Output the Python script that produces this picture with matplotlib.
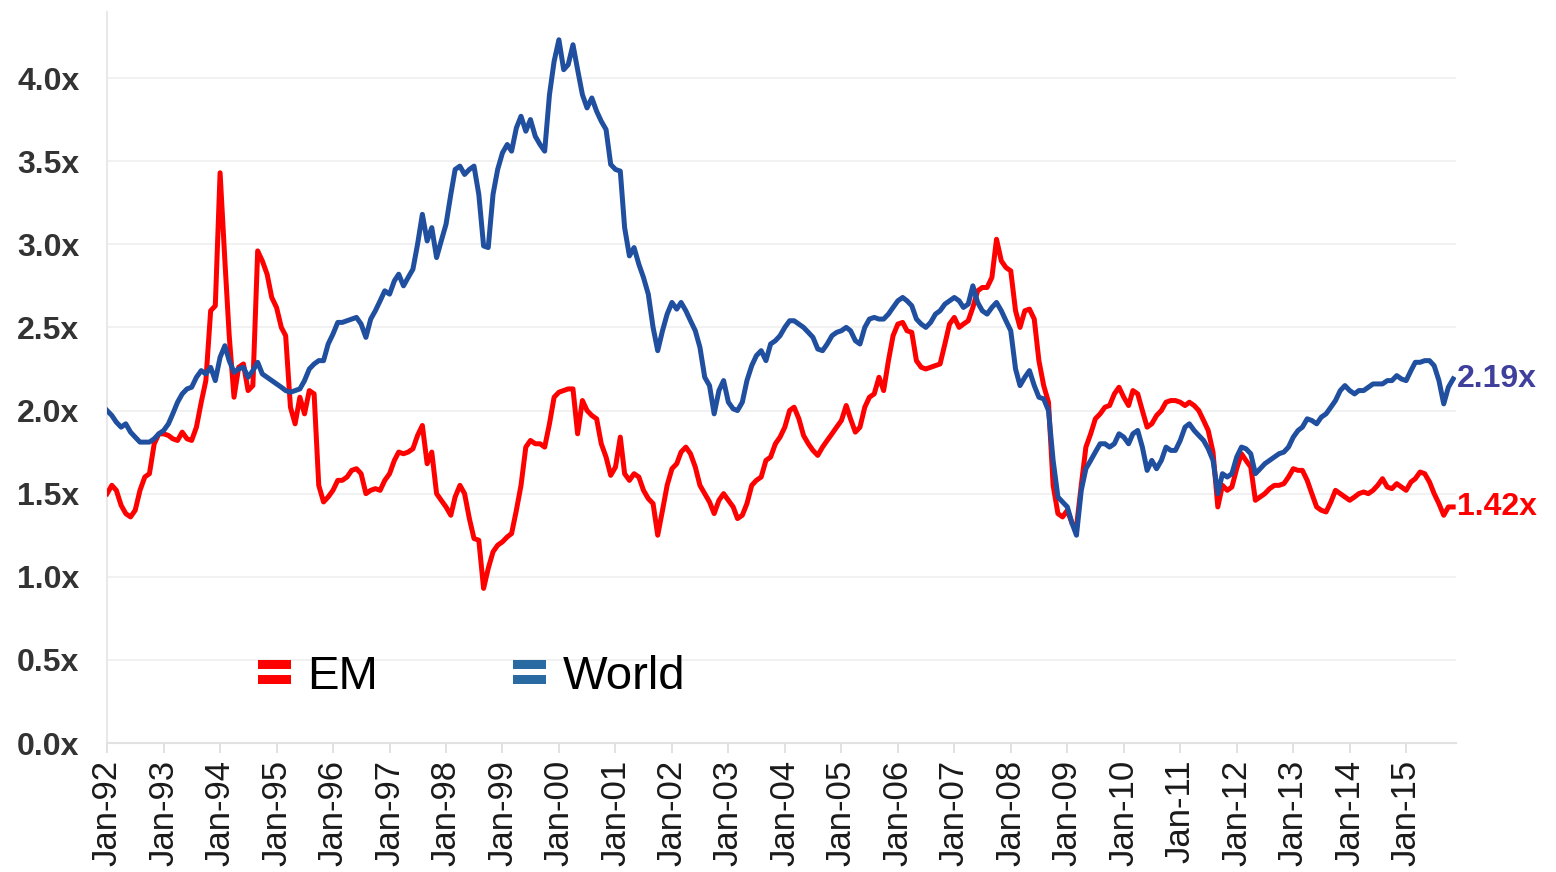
import matplotlib
matplotlib.use('Agg')
import matplotlib.pyplot as plt
import matplotlib.dates as mdates
import numpy as np
import pandas as pd
from matplotlib.legend_handler import HandlerBase
from matplotlib.patches import Rectangle, Patch

plt.rcParams['font.family'] = ['Liberation Sans', 'DejaVu Sans']

start_month = '1992-01-01'

world = [
    2.00, 1.97, 1.93, 1.90, 1.92, 1.87, 1.84, 1.81, 1.81, 1.81, 1.83, 1.86,  # 1992
    1.88, 1.92, 1.98, 2.05, 2.10, 2.13, 2.14, 2.20, 2.24, 2.22, 2.26, 2.18,  # 1993
    2.32, 2.39, 2.30, 2.23, 2.25, 2.26, 2.20, 2.24, 2.29, 2.22, 2.20, 2.18,  # 1994
    2.16, 2.14, 2.12, 2.11, 2.12, 2.13, 2.18, 2.25, 2.28, 2.30, 2.30, 2.40,  # 1995
    2.46, 2.53, 2.53, 2.54, 2.55, 2.56, 2.52, 2.44, 2.55, 2.60, 2.66, 2.72,  # 1996
    2.70, 2.78, 2.82, 2.75, 2.80, 2.85, 3.00, 3.18, 3.02, 3.10, 2.92, 3.02,  # 1997
    3.12, 3.30, 3.45, 3.47, 3.42, 3.45, 3.47, 3.30, 2.99, 2.98, 3.30, 3.45,  # 1998
    3.55, 3.60, 3.56, 3.70, 3.77, 3.68, 3.75, 3.65, 3.60, 3.56, 3.90, 4.10,  # 1999
    4.23, 4.05, 4.08, 4.20, 4.05, 3.90, 3.82, 3.88, 3.80, 3.74, 3.69, 3.48,  # 2000
    3.45, 3.44, 3.10, 2.93, 2.98, 2.88, 2.80, 2.70, 2.50, 2.36, 2.48, 2.58,  # 2001
    2.65, 2.61, 2.65, 2.60, 2.54, 2.48, 2.38, 2.20, 2.15, 1.98, 2.12, 2.18,  # 2002
    2.05, 2.01, 2.00, 2.05, 2.18, 2.27, 2.33, 2.36, 2.30, 2.40, 2.42, 2.45,  # 2003
    2.50, 2.54, 2.54, 2.52, 2.50, 2.47, 2.44, 2.37, 2.36, 2.40, 2.45, 2.47,  # 2004
    2.48, 2.50, 2.48, 2.42, 2.40, 2.50, 2.55, 2.56, 2.55, 2.55, 2.58, 2.62,  # 2005
    2.66, 2.68, 2.66, 2.63, 2.55, 2.52, 2.50, 2.53, 2.58, 2.60, 2.64, 2.66,  # 2006
    2.68, 2.66, 2.62, 2.64, 2.75, 2.65, 2.60, 2.58, 2.62, 2.65, 2.60, 2.54,  # 2007
    2.48, 2.25, 2.15, 2.20, 2.24, 2.15, 2.08, 2.07, 2.00, 1.70, 1.48, 1.45,  # 2008
    1.42, 1.32, 1.25, 1.52, 1.65, 1.70, 1.75, 1.80, 1.80, 1.78, 1.80, 1.86,  # 2009
    1.84, 1.80, 1.86, 1.88, 1.78, 1.64, 1.70, 1.65, 1.70, 1.78, 1.76, 1.76,  # 2010
    1.82, 1.90, 1.92, 1.88, 1.85, 1.82, 1.77, 1.70, 1.50, 1.62, 1.60, 1.62,  # 2011
    1.72, 1.78, 1.77, 1.74, 1.62, 1.65, 1.68, 1.70, 1.72, 1.74, 1.75, 1.78,  # 2012
    1.84, 1.88, 1.90, 1.95, 1.94, 1.92, 1.96, 1.98, 2.02, 2.06, 2.12, 2.15,  # 2013
    2.12, 2.10, 2.12, 2.12, 2.14, 2.16, 2.16, 2.16, 2.18, 2.18, 2.21, 2.19,  # 2014
    2.18, 2.24, 2.29, 2.29, 2.30, 2.30, 2.27, 2.18, 2.04, 2.14, 2.19,        # 2015
]

em = [
    1.50, 1.55, 1.52, 1.43, 1.38, 1.36, 1.40, 1.52, 1.60, 1.62, 1.80, 1.86,  # 1992
    1.86, 1.85, 1.83, 1.82, 1.87, 1.83, 1.82, 1.90, 2.05, 2.18, 2.60, 2.63,  # 1993
    3.43, 2.90, 2.45, 2.08, 2.26, 2.28, 2.12, 2.15, 2.96, 2.90, 2.82, 2.68,  # 1994
    2.62, 2.50, 2.45, 2.02, 1.92, 2.08, 1.98, 2.12, 2.10, 1.55, 1.45, 1.48,  # 1995
    1.52, 1.58, 1.58, 1.60, 1.64, 1.65, 1.62, 1.50, 1.52, 1.53, 1.52, 1.58,  # 1996
    1.62, 1.70, 1.75, 1.74, 1.75, 1.77, 1.85, 1.91, 1.68, 1.75, 1.50, 1.46,  # 1997
    1.42, 1.37, 1.48, 1.55, 1.50, 1.35, 1.23, 1.22, 0.93, 1.05, 1.15, 1.19,  # 1998
    1.21, 1.24, 1.26, 1.40, 1.55, 1.78, 1.82, 1.80, 1.80, 1.78, 1.92, 2.08,  # 1999
    2.11, 2.12, 2.13, 2.13, 1.86, 2.06, 2.00, 1.97, 1.95, 1.80, 1.72, 1.61,  # 2000
    1.66, 1.84, 1.62, 1.58, 1.62, 1.60, 1.52, 1.47, 1.44, 1.25, 1.40, 1.55,  # 2001
    1.65, 1.68, 1.75, 1.78, 1.74, 1.66, 1.55, 1.50, 1.45, 1.38, 1.46, 1.50,  # 2002
    1.46, 1.42, 1.35, 1.37, 1.44, 1.55, 1.58, 1.60, 1.70, 1.72, 1.80, 1.84,  # 2003
    1.90, 2.00, 2.02, 1.95, 1.85, 1.80, 1.76, 1.73, 1.78, 1.82, 1.86, 1.90,  # 2004
    1.94, 2.03, 1.95, 1.87, 1.90, 2.02, 2.08, 2.10, 2.20, 2.12, 2.30, 2.45,  # 2005
    2.52, 2.53, 2.48, 2.47, 2.30, 2.26, 2.25, 2.26, 2.27, 2.28, 2.40, 2.52,  # 2006
    2.56, 2.50, 2.52, 2.54, 2.62, 2.72, 2.74, 2.74, 2.80, 3.03, 2.90, 2.86,  # 2007
    2.84, 2.60, 2.50, 2.60, 2.61, 2.55, 2.30, 2.15, 2.05, 1.55, 1.38, 1.36,  # 2008
    1.40, 1.32, 1.30, 1.55, 1.78, 1.86, 1.95, 1.98, 2.02, 2.03, 2.10, 2.14,  # 2009
    2.08, 2.03, 2.12, 2.10, 2.00, 1.90, 1.92, 1.97, 2.00, 2.05, 2.06, 2.06,  # 2010
    2.05, 2.03, 2.05, 2.03, 2.00, 1.94, 1.88, 1.75, 1.42, 1.55, 1.52, 1.54,  # 2011
    1.65, 1.74, 1.70, 1.66, 1.46, 1.48, 1.50, 1.53, 1.55, 1.55, 1.56, 1.60,  # 2012
    1.65, 1.64, 1.64, 1.58, 1.50, 1.42, 1.40, 1.39, 1.45, 1.52, 1.50, 1.48,  # 2013
    1.46, 1.48, 1.50, 1.51, 1.50, 1.52, 1.55, 1.59, 1.54, 1.53, 1.56, 1.54,  # 2014
    1.52, 1.57, 1.59, 1.63, 1.62, 1.57, 1.50, 1.44, 1.37, 1.42, 1.42,        # 2015
]

y_ticks = [0.0, 0.5, 1.0, 1.5, 2.0, 2.5, 3.0, 3.5, 4.0]
y_tick_labels = [f"{v:.1f}x" for v in y_ticks]
series_names = ['EM', 'World']

EM_COLOR = '#ff0000'
WORLD_COLOR = '#1f4f9e'
WORLD_LEGEND_COLOR = '#2a6aa2'
END_WORLD_COLOR = '#3f3f9c'

dates = pd.date_range(start_month, periods=len(em), freq='MS')

fig = plt.figure(figsize=(15.56, 8.72), dpi=100)
ax = fig.add_axes([0.0688, 0.1479, 0.8669, 0.8389])

ax.plot(dates, em, color=EM_COLOR, lw=3.6, zorder=3, solid_joinstyle='round')
ax.plot(dates, world, color=WORLD_COLOR, lw=3.6, zorder=4, solid_joinstyle='round')

ax.set_xlim(dates[0], pd.Timestamp('2015-11-19'))
ax.set_ylim(0, 4.4)

ax.set_yticks(y_ticks)
ax.set_yticklabels(y_tick_labels)
ax.yaxis.grid(True, color='#f0f0f0', lw=1.3)
ax.set_axisbelow(True)

for s in ['top', 'right']:
    ax.spines[s].set_visible(False)
ax.spines['left'].set_color('#e8e8e8')
ax.spines['left'].set_linewidth(1.5)
ax.spines['bottom'].set_color('#e2e2e2')
ax.spines['bottom'].set_linewidth(1.5)

ax.tick_params(axis='y', length=0, pad=20, labelsize=23, labelcolor='#333333')
for t in ax.get_yticklabels():
    t.set_fontweight('bold')

ax.xaxis.set_major_locator(mdates.YearLocator(1, month=1, day=1))
ax.xaxis.set_major_formatter(mdates.DateFormatter('%b-%y'))
ax.tick_params(axis='x', length=7, width=1.2, color='#dcdcdc', pad=5,
               labelsize=25, labelcolor='#1a1a1a', labelrotation=90)
for t in ax.get_xticklabels():
    t.set_va('top')
    t.set_ha('center')


class DoubleBar(HandlerBase):
    def create_artists(self, legend, orig_handle, xdescent, ydescent,
                       width, height, fontsize, trans):
        c = orig_handle.get_facecolor()
        bh = height * 0.27
        gap = height * 0.2
        mid = -ydescent + height / 2
        r1 = Rectangle((-xdescent, mid + gap / 2), width, bh, facecolor=c,
                       edgecolor='none', transform=trans)
        r2 = Rectangle((-xdescent, mid - gap / 2 - bh), width, bh, facecolor=c,
                       edgecolor='none', transform=trans)
        return [r1, r2]


handles = [Patch(facecolor=EM_COLOR, label=series_names[0]),
           Patch(facecolor=WORLD_LEGEND_COLOR, label=series_names[1])]
leg = fig.legend(handles=handles, loc='center left',
                 bbox_to_anchor=(0.1655, 0.224), bbox_transform=fig.transFigure,
                 ncol=2, frameon=False, fontsize=34, handlelength=0.7,
                 handleheight=0.7, handletextpad=0.36, columnspacing=2.85,
                 borderpad=0, borderaxespad=0,
                 handler_map={Patch: DoubleBar()})

ax.annotate(f"{world[-1]:.2f}x", xy=(dates[-1], world[-1]), xytext=(3, 0),
            textcoords='offset points', va='center', ha='left',
            fontsize=23, fontweight='bold', color=END_WORLD_COLOR,
            annotation_clip=False)
ax.annotate(f"{em[-1]:.2f}x", xy=(dates[-1], em[-1]), xytext=(3, 0),
            textcoords='offset points', va='center', ha='left',
            fontsize=23, fontweight='bold', color=EM_COLOR,
            annotation_clip=False)

fig.savefig('out.png', dpi=100, facecolor='white')
